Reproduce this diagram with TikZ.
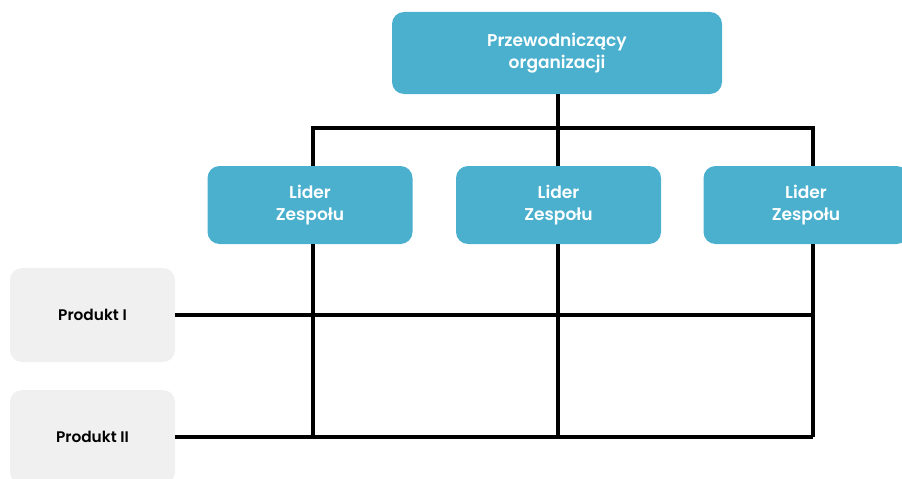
\documentclass[tikz,border=0pt]{standalone}
\usepackage{fontspec}
\setmainfont{Poppins}[BoldFont={Poppins SemiBold}]
\usetikzlibrary{positioning}
\definecolor{boxblue}{RGB}{74,176,206}
\definecolor{boxgray}{RGB}{240,240,240}

\begin{document}
\begin{tikzpicture}[x=0.75pt,y=0.75pt,yscale=-1,xscale=1,
  lead/.style={fill=boxblue,rounded corners=9pt,minimum width=153.75pt,minimum height=58.5pt,text=white,font=\fontsize{12.8}{16.5}\selectfont\bfseries,align=center,inner sep=0pt},
  prod/.style={fill=boxgray,rounded corners=9pt,minimum width=123.75pt,minimum height=70.5pt,text=black,font=\fontsize{11.5}{13}\selectfont\bfseries,inner sep=0pt},
  link/.style={line width=2.9pt}]
\useasboundingbox (0,0) rectangle (902,478);
\clip (0,0) rectangle (902,478);

%Column lines
\coordinate (colA) at (313,128);
\coordinate (colB) at (558,128);
\coordinate (colC) at (813,128);

%Shape: Rounded Rect
\node [lead,minimum width=247.5pt,minimum height=61.5pt] (chair) at (557,53) {Przewodniczący\\organizacji};
\node [lead] (lead1) at (310,205) {Lider\\Zespołu};
\node [lead] (lead2) at (558.5,205) {Lider\\Zespołu};
\node [lead] (lead3) at (806,205) {Lider\\Zespołu};
\node [prod] (prod1) at (92.5,315) {Produkt I};
\node [prod] (prod2) at (92.5,437) {Produkt II};

%Straight Lines
\draw [link] (chair.south -| colB) -- (colB);
\draw [link] (colA |- lead1.north) -- (colA) -- (colC) -- (colC |- lead3.north);
\draw [link] (colB) -- (colB |- lead2.north);
\draw [link] (lead1.south -| colA) -- (colA |- prod2.east);
\draw [link] (lead2.south -| colB) -- (colB |- prod2.east);
\draw [link] (lead3.south -| colC) -- (colC |- prod2.east);
\draw [link] (prod1.east) -- (prod1.east -| colC);
\draw [link] (prod2.east) -- (prod2.east -| colC);

\end{tikzpicture}
\end{document}
